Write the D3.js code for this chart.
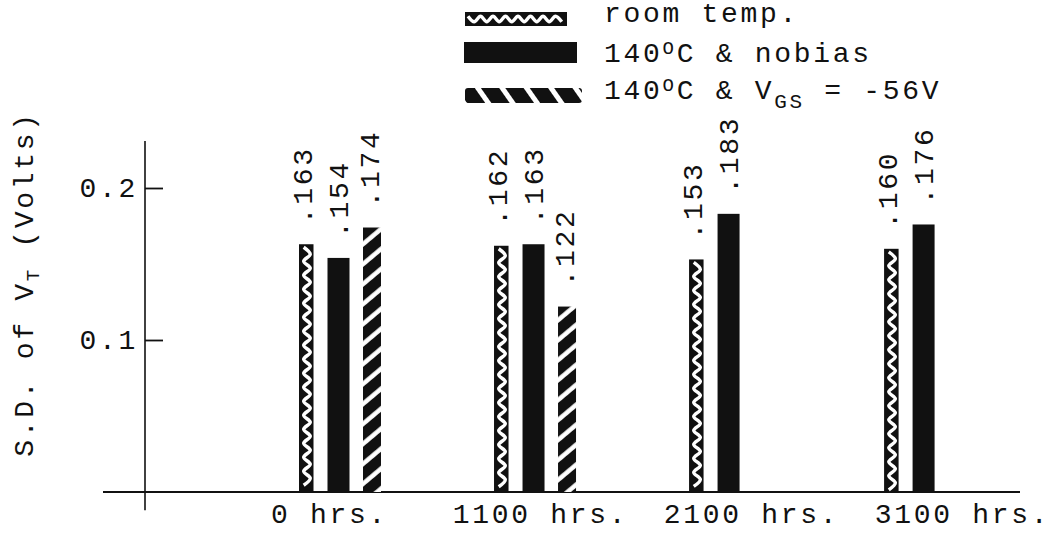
<!DOCTYPE html>
<html>
<head>
<meta charset="utf-8">
<script src="https://cdn.jsdelivr.net/npm/d3@7"></script>
<style>
  html, body { margin: 0; padding: 0; background: #fff; }
  svg { display: block; }
  text { font-family: "Courier New", "Liberation Mono", monospace; fill: #111; }
</style>
</head>
<body>
<svg id="chart" width="1051" height="537"></svg>
<script>
// ---- data ----
const categories = ["0 hrs.", "1100 hrs.", "2100 hrs.", "3100 hrs."];
const roomTemp   = [0.163, 0.162, 0.153, 0.160];
const noBias     = [0.154, 0.163, 0.183, 0.176];
const negBias    = [0.174, 0.122, null, null];
const yTicks     = [0.1, 0.2];

// ---- layout / style ----
const INK = "#111";
const FONT = 28, SPACING = 2.7;
const svg = d3.select("#chart");
const defs = svg.append("defs");

const y = d3.scaleLinear().domain([0, 0.2]).range([492, 188]);
// bar groups
const x = d3.scaleBand().domain(categories).range([299, 966]).paddingInner(0.58).paddingOuter(0);
// typed category captions sit on a slightly wider spacing than the bar groups
const xLabel = d3.scalePoint().domain(categories).range([329, 962]);

// bar placement inside each group (px offsets from the group start) and fills
const series = [
  { key: "room",  values: roomTemp, offset: 0,    width: 14.5, fill: INK },
  { key: "plain", values: noBias,   offset: 28.5, width: 22,   fill: INK },
  { key: "bias",  values: negBias,  offset: 64,   width: 18,   fill: "url(#hatchBar)" }
];

// diagonal white stripes on black, "/" direction inside bars
const hb = defs.append("pattern").attr("id", "hatchBar")
  .attr("patternUnits", "userSpaceOnUse").attr("width", 40).attr("height", 15.3)
  .attr("patternTransform", "rotate(-40)");
hb.append("rect").attr("width", 40).attr("height", 15.3).attr("fill", INK);
hb.append("rect").attr("y", 5).attr("width", 40).attr("height", 4.5).attr("fill", "#fff");

// "\" stripes for the legend swatch
const hl = defs.append("pattern").attr("id", "hatchLegend")
  .attr("patternUnits", "userSpaceOnUse").attr("width", 40).attr("height", 20)
  .attr("patternTransform", "translate(465,88) rotate(55)");
hl.append("rect").attr("width", 40).attr("height", 20).attr("fill", INK);
hl.append("rect").attr("y", 7).attr("width", 40).attr("height", 5).attr("fill", "#fff");

// wavy white line used on the room-temperature bars
function wave(c, from, to, period, amp, vertical) {
  const pts = [];
  let i = 0;
  for (let t = from; t <= to + 0.01; t += period / 2, i++) {
    const o = c + (i % 2 ? amp : -amp);
    pts.push(vertical ? [o, t] : [t, o]);
  }
  const line = d3.line().curve(vertical ? d3.curveMonotoneY : d3.curveMonotoneX);
  return line(pts);
}

// ---- axes ----
const axisG = svg.append("g");
axisG.append("line")
  .attr("x1", 145).attr("x2", 145)
  .attr("y1", y(0.231)).attr("y2", y(-0.012))
  .attr("stroke", INK).attr("stroke-width", 1.6);
axisG.append("line")
  .attr("x1", 103).attr("x2", 1020)
  .attr("y1", y(0)).attr("y2", y(0))
  .attr("stroke", INK).attr("stroke-width", 2.2);

const yAxis = svg.append("g").attr("transform", "translate(145,0)")
  .call(d3.axisLeft(y).tickValues(yTicks).tickSize(-18).tickPadding(7)
        .tickFormat(d3.format(".1f")));
yAxis.select(".domain").remove();
yAxis.selectAll(".tick line").attr("stroke", INK).attr("stroke-width", 1.8);
yAxis.selectAll(".tick text").attr("font-size", FONT).attr("letter-spacing", SPACING)
  .attr("font-family", null).attr("fill", INK);

const xAxis = svg.append("g").attr("transform", `translate(0,${y(0)})`)
  .call(d3.axisBottom(xLabel).tickSize(0).tickPadding(11));
xAxis.select(".domain").remove();
xAxis.selectAll(".tick text").attr("font-size", FONT).attr("letter-spacing", SPACING)
  .attr("font-family", null).attr("fill", INK);

// y-axis title
const yTitle = svg.append("text")
  .attr("transform", "translate(33,284) rotate(-90)")
  .attr("text-anchor", "middle").attr("font-size", FONT).attr("letter-spacing", SPACING);
yTitle.append("tspan").text("S.D. of V");
yTitle.append("tspan").attr("font-size", 19).attr("dy", 6).text("T");
yTitle.append("tspan").attr("dy", -6).text("  (Volts)");

// ---- bars ----
const fmt = v => d3.format(".3f")(v).replace(/^0/, "");
const barsG = svg.append("g");
series.forEach(s => {
  categories.forEach((c, i) => {
    const v = s.values[i];
    if (v == null) return;
    const bx = x(c) + s.offset;
    barsG.append("rect")
      .attr("x", bx).attr("y", y(v))
      .attr("width", s.width).attr("height", y(0) - y(v))
      .attr("fill", s.fill);
    if (s.key === "room") {
      barsG.append("path")
        .attr("d", wave(bx + s.width * 0.55, y(v) + 3, y(0) - 2, 14, 3.3, true))
        .attr("fill", "none").attr("stroke", "#fff").attr("stroke-width", 3.4);
    }
    barsG.append("text")
      .attr("transform", `translate(${bx + s.width - 2},${y(v) - 20}) rotate(-90)`)
      .attr("font-size", FONT).attr("letter-spacing", SPACING)
      .text(fmt(v));
  });
});

// ---- legend ----
const lg = svg.append("g");
lg.append("rect").attr("x", 465).attr("y", 12).attr("width", 102).attr("height", 14).attr("fill", INK);
lg.append("path").attr("d", wave(19, 468, 564, 12.5, 2.8, false))
  .attr("fill", "none").attr("stroke", "#fff").attr("stroke-width", 3.4);
lg.append("rect").attr("x", 464).attr("y", 42).attr("width", 113).attr("height", 21).attr("fill", INK);
lg.append("rect").attr("x", 465).attr("y", 88).attr("width", 117).attr("height", 15)
  .attr("rx", 3).attr("fill", "url(#hatchLegend)");

const t1 = lg.append("text").attr("x", 604).attr("y", 22)
  .attr("font-size", FONT).attr("letter-spacing", SPACING).text("room temp.");
const t2 = lg.append("text").attr("x", 604).attr("y", 62)
  .attr("font-size", FONT).attr("letter-spacing", SPACING);
t2.append("tspan").text("140");
t2.append("tspan").attr("font-size", 19).attr("dy", -8).text("O");
t2.append("tspan").attr("dy", 8).text("C & nobias");
const t3 = lg.append("text").attr("x", 604).attr("y", 99)
  .attr("font-size", FONT).attr("letter-spacing", SPACING);
t3.append("tspan").text("140");
t3.append("tspan").attr("font-size", 19).attr("dy", -8).text("O");
t3.append("tspan").attr("dy", 8).text("C & V");
t3.append("tspan").attr("font-size", 21).attr("dy", 9).text("GS");
t3.append("tspan").attr("dy", -9).text(" = -56V");
</script>
</body>
</html>
